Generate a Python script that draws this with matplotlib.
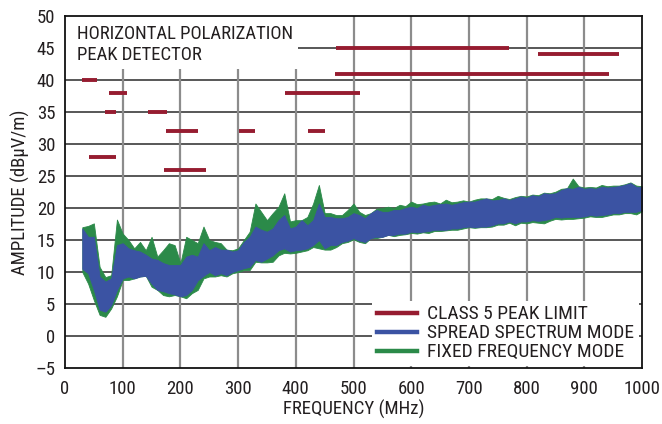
import numpy as np
import matplotlib
matplotlib.use("Agg")
import matplotlib.pyplot as plt
from matplotlib.lines import Line2D
from matplotlib.patches import Rectangle

plt.rcParams["font.family"] = ["Roboto Condensed", "DejaVu Sans"]

# Class 5 peak limit segments (MHz start, MHz stop, dBuV/m)
limit_start = [30, 77, 69, 143, 175, 301, 421, 42, 172, 381, 470, 820, 468]
limit_stop = [55, 108, 88, 176, 230, 330, 450, 89, 245, 512, 769, 960, 943]
limit_level = [40, 38, 35, 35, 32, 32, 32, 28, 26, 38, 45, 44, 41]

# sample frequencies (MHz) at which the band envelopes were read
freq = [30, 40, 50, 60, 70, 80, 90, 100, 110, 120, 130, 140, 150, 160, 170,
        180, 190, 200, 210, 220, 230, 240, 250, 260, 270, 280, 290, 300, 310,
        320, 330, 340, 350, 360, 370, 380, 390, 400, 410, 420, 430, 440, 450,
        460, 470, 480, 490, 500, 510, 520, 530, 540, 550, 560, 570, 580, 590,
        600, 610, 620, 630, 640, 650, 660, 670, 680, 690, 700, 710, 720, 730,
        740, 750, 760, 770, 780, 790, 800, 810, 820, 830, 840, 850, 860, 870,
        880, 890, 900, 910, 920, 930, 940, 950, 960, 970, 980, 990, 1000]

# fixed frequency mode envelope
fixed_hi = [17.0, 17.2, 17.6, 10.8, 9.2, 9.5, 18.2, 16.0, 15.0, 13.7, 14.7, 13.4,
            15.5, 12.4, 13.4, 14.5, 14.2, 11.4, 15.5, 15.0, 14.5, 17.1, 15.0,
            14.7, 14.5, 13.5, 13.4, 13.7, 15.0, 16.3, 20.7, 19.4, 18.1, 19.2,
            20.2, 22.3, 17.9, 18.1, 18.1, 18.6, 20.7, 23.6, 19.2,
            19.2, 18.9, 18.9, 19.7, 20.7, 19.4, 18.9, 19.2, 19.9, 20.0, 20.2,
            20.0, 20.5, 20.3, 21.0, 20.6, 20.7, 20.9, 21.0, 20.7, 21.3, 20.9,
            21.0, 21.2, 21.0, 21.3, 21.5, 21.5, 21.4, 21.9, 21.6, 21.4, 21.7,
            21.9, 21.8, 22.1, 22.0, 22.4, 22.3, 22.55, 23.0, 23.1, 24.6, 23.4,
            23.2, 23.3, 23.2, 23.6, 23.4, 23.5, 23.5, 23.7, 24.0, 23.5, 23.4]
fixed_lo = [10.0, 8.2, 5.6, 3.3, 3.0, 4.3, 6.2, 8.75, 8.75, 9.0, 9.3, 9.4, 7.7,
            7.2, 6.4, 6.2, 6.4, 6.2, 5.9, 6.7, 7.2, 9.0, 9.3, 9.3, 9.5, 9.3,
            9.8, 10.0, 10.3, 10.3, 11.6, 11.5, 11.5, 11.6, 12.6, 13.0, 12.9,
            13.0, 13.2, 13.4, 13.9, 13.7, 13.5,
            13.5, 13.9, 14.5, 14.7, 15.1, 14.7, 14.5, 15.3, 15.3, 15.5, 15.8,
            15.6, 15.8, 15.9, 16.1, 16.0, 16.2, 16.1, 16.4, 16.4, 16.5, 16.6,
            16.6, 16.8, 17.0, 16.9, 17.0, 17.0, 17.1, 17.4, 17.4, 17.7, 17.3,
            17.7, 17.6, 17.8, 17.7, 17.6, 18.0, 18.3, 18.2, 18.3, 18.3, 18.4,
            18.5, 18.7, 18.6, 18.6, 18.8, 19.0, 19.0, 19.2, 19.2, 19.0, 19.5]

# spread spectrum mode envelope
spread_hi = [16.8, 15.5, 15.5, 9.3, 8.5, 9.0, 14.2, 14.5, 13.7, 13.4, 13.2, 12.7,
             12.1, 11.9, 11.4, 11.1, 11.1, 11.1, 12.4, 12.7, 12.4, 14.5, 13.4,
             13.9, 13.5, 13.5, 13.2, 13.4, 14.7, 15.5, 17.1, 16.6, 16.3, 16.8,
             18.1, 18.9, 16.8, 17.1, 18.1, 17.3, 18.1, 20.7, 18.6,
             18.6, 18.4, 18.4, 18.6, 19.2, 18.9, 18.4, 19.2, 19.7, 19.4, 19.4,
             19.7, 19.7, 20.0, 20.2, 20.0, 20.5, 20.3, 20.5, 20.6, 20.7, 20.5,
             20.7, 20.9, 21.0, 21.0, 21.25, 21.5, 21.2, 21.25, 21.5, 21.25, 21.5,
             21.8, 21.6, 22.0, 21.8, 22.3, 22.2, 22.3, 22.8, 23.1, 23.0, 23.3,
             23.0, 23.1, 23.0, 23.3, 23.2, 23.3, 23.4, 23.6, 23.9, 23.3, 23.3]
spread_lo = [10.5, 9.8, 7.2, 4.1, 3.8, 4.8, 7.2, 9.0, 9.3, 9.0, 9.3, 9.4, 8.2,
             7.2, 7.0, 6.7, 6.5, 6.2, 6.4, 7.2, 8.7, 9.4, 10.0, 9.5, 9.8, 9.5,
             10.0, 10.3, 10.6, 10.8, 11.9, 11.6, 12.1, 12.6, 13.4, 13.7, 13.2,
             13.4, 13.5, 13.7, 14.2, 15.0, 13.7,
             14.2, 14.2, 14.7, 14.9, 15.3, 14.9, 14.7, 15.3, 15.5, 15.5, 15.8,
             15.8, 16.0, 16.0, 16.3, 16.2, 16.3, 16.4, 16.6, 16.6, 16.6, 16.8,
             16.8, 17.0, 17.1, 17.0, 17.1, 17.1, 17.3, 17.6, 17.6, 17.9, 17.6,
             17.9, 17.9, 18.1, 18.0, 18.1, 18.3, 18.6, 18.5, 18.6, 18.6, 18.6,
             18.7, 18.9, 18.8, 18.9, 19.0, 19.2, 19.2, 19.4, 19.4, 19.4, 19.7]

series_labels = ["CLASS 5 PEAK LIMIT", "SPREAD SPECTRUM MODE", "FIXED FREQUENCY MODE"]
x_ticks = [0, 100, 200, 300, 400, 500, 600, 700, 800, 900, 1000]
y_ticks = [-5, 0, 5, 10, 15, 20, 25, 30, 35, 40, 45, 50]

red = "#961c30"
blue = "#3b53a3"
green = "#2b8a49"
ink = "#231f20"

fig = plt.figure(figsize=(6.62, 4.24), dpi=100)
ax = fig.add_axes([65 / 662, 1 - 368 / 424, 577 / 662, 352 / 424])

ax.set_xlim(0, 1000)
ax.set_ylim(-5, 50)
ax.set_axisbelow(True)

# grid: dark horizontals, lighter thicker verticals
for y in y_ticks[1:-1]:
    ax.axhline(y, color="#2a2a2a", lw=1.1, zorder=0)
for x in x_ticks[1:-1]:
    ax.axvline(x, color="#8c8c8c", lw=1.6, zorder=0)

ax.fill_between(freq, fixed_lo, fixed_hi, color=green, lw=0.6, edgecolor=green, zorder=2)
ax.fill_between(freq, spread_lo, spread_hi, color=blue, lw=0.6, edgecolor=blue, zorder=3)

ax.hlines(limit_level, limit_start, limit_stop, color=red, lw=2.8, zorder=4)

# white box behind the note in the top left
ax.add_patch(Rectangle((0, 0.849), 0.404, 0.151, transform=ax.transAxes,
                       facecolor="white", edgecolor="none", zorder=5))
ax.text(0.021, 0.975, "HORIZONTAL POLARIZATION\nPEAK DETECTOR",
        transform=ax.transAxes, ha="left", va="top", fontsize=13.5,
        color=ink, linespacing=1.2, zorder=6)

ax.set_xticks(x_ticks)
ax.set_yticks(y_ticks)
ax.set_yticklabels([("\u2013" + str(-v)) if v < 0 else str(v) for v in y_ticks])
ax.tick_params(length=0, labelsize=13.5, colors=ink)
ax.tick_params(axis="y", pad=7)
ax.tick_params(axis="x", pad=9)
for side in ["left", "right", "top", "bottom"]:
    ax.spines[side].set_linewidth(1.3)
    ax.spines[side].set_color("#111111")
    ax.spines[side].set_zorder(8)

ax.set_xlabel("FREQUENCY (MHz)", fontsize=13.5, color=ink, labelpad=1)
ax.set_ylabel("AMPLITUDE (dB\u03bcV/m)", fontsize=13.5, color=ink, labelpad=4)

handles = [Line2D([], [], color=c, lw=3.2) for c in (red, blue, green)]
leg = ax.legend(handles, series_labels, loc="lower right",
                bbox_to_anchor=(0.995, 0.005), fontsize=14, frameon=True,
                fancybox=False, framealpha=1, edgecolor="none",
                facecolor="white", handlelength=2.05, handletextpad=0.55,
                labelspacing=0.05, borderpad=0.25, borderaxespad=0)
leg.set_zorder(7)
for t in leg.get_texts():
    t.set_color(ink)

fig.savefig("out.png", dpi=100)
